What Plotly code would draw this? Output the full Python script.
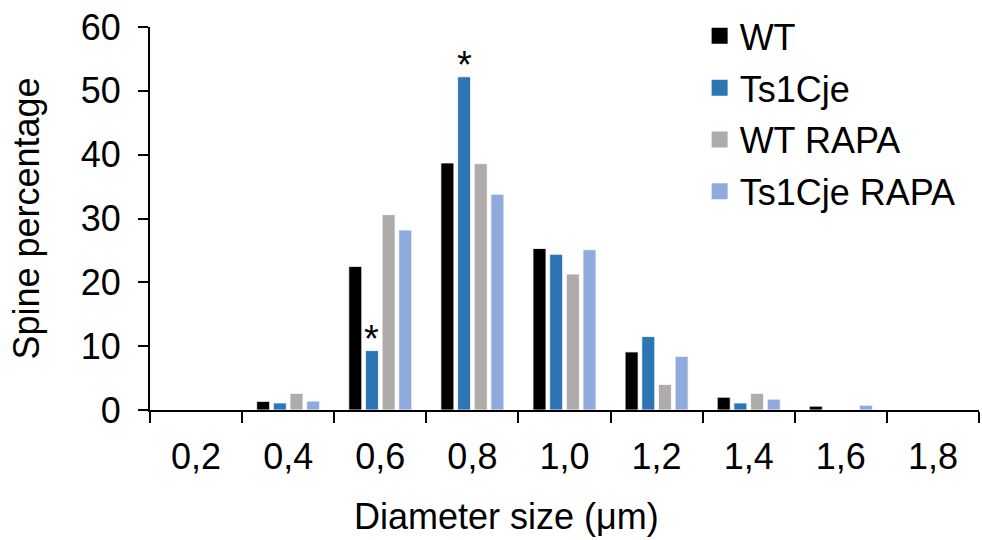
import plotly.graph_objects as go

categories = ["0,2", "0,4", "0,6", "0,8", "1,0", "1,2", "1,4", "1,6", "1,8"]
series_names = ["WT", "Ts1Cje", "WT RAPA", "Ts1Cje RAPA"]
wt = [0, 1.35, 22.5, 38.7, 25.3, 9.1, 2.0, 0.6, 0]
ts1cje = [0, 1.1, 9.3, 52.2, 24.4, 11.5, 1.1, 0, 0]
wt_rapa = [0, 2.6, 30.6, 38.6, 21.3, 4.0, 2.6, 0, 0]
ts1cje_rapa = [0, 1.4, 28.2, 33.8, 25.1, 8.4, 1.7, 0.75, 0]
colors = ["#000000", "#2E75B6", "#AFABAB", "#8FAADC"]
star_categories = ["0,6", "0,8"]
x_title = "Diameter size (μm)"
y_title = "Spine percentage"

FONT = "Liberation Sans, Arial, sans-serif"
FS = 36
fig = go.Figure()
for name, vals, col in zip(series_names, [wt, ts1cje, wt_rapa, ts1cje_rapa], colors):
    fig.add_trace(go.Bar(x=categories, y=vals, name=name, marker=dict(color=col, line=dict(color="white", width=0.8)),
                         showlegend=False))
for name, col in zip(series_names, colors):
    fig.add_trace(go.Scatter(x=[None], y=[None], mode="markers", name=name, legendgroup=name,
                             marker=dict(symbol="square", size=19, color=col)))

for c in star_categories:
    v = ts1cje[categories.index(c)]
    fig.add_annotation(x=c, y=v, xshift=-8.3, yshift=-11, text="*", showarrow=False, yanchor="bottom",
                       font=dict(size=38, color="black", family=FONT))

fig.add_annotation(x=0.4306, y=-0.279, xref="paper", yref="paper", text=x_title, showarrow=False,
                   xanchor="center", yanchor="middle", font=dict(size=FS, color="black", family=FONT))

fig.update_layout(
    width=982, height=540,
    margin=dict(l=150, r=3, t=27, b=130),
    plot_bgcolor="white", paper_bgcolor="white",
    barmode="group", bargap=0.276, bargroupgap=0.22,
    font=dict(family=FONT, size=FS, color="black"),
    legend=dict(x=0.663, y=1.055, xanchor="left", yanchor="top", bgcolor="rgba(0,0,0,0)",
                font=dict(size=FS), tracegroupgap=2, itemwidth=30),
    xaxis=dict(type="category", showline=True, linecolor="black", linewidth=2,
               ticks="outside", tickson="boundaries", ticklen=11, tickwidth=2, tickcolor="black",
               tickfont=dict(size=FS), ticklabelstandoff=14),
    yaxis=dict(range=[0, 60], tickvals=[0, 10, 20, 30, 40, 50, 60], showline=True, linecolor="black",
               linewidth=2, ticks="outside", ticklen=10, tickwidth=2, tickcolor="black",
               showgrid=False, zeroline=False, tickfont=dict(size=FS), ticklabelstandoff=10,
               title=dict(text=y_title, font=dict(size=FS), standoff=30)),
)
fig.write_html("out.html")
